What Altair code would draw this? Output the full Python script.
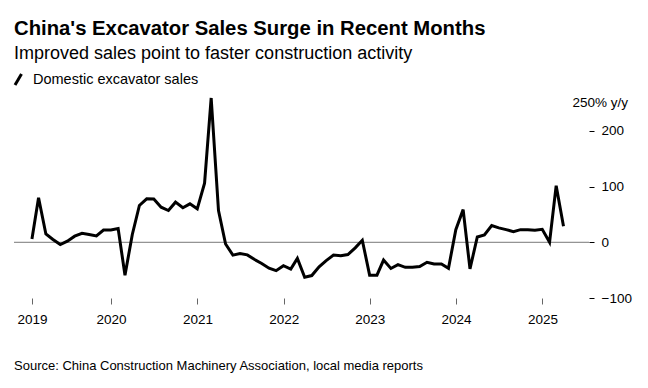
import altair as alt
import pandas as pd

# Monthly y/y change in domestic excavator sales, Jan 2019 .. Mar 2025 (month-end dated)
months = pd.date_range("2019-01-31", "2025-03-31", freq="ME")
values = [
    # 2019
    6, 80, 15, 5, -4, 2, 11, 16, 14, 11.5, 22, 22,
    # 2020
    24.5, -59, 14, 66, 78, 77.7, 63, 57, 72, 62, 69, 60,
    # 2021
    106, 259, 57, -3, -23, -20, -22.6, -31, -38, -46.5, -51, -42,
    # 2022
    -48, -29, -62.7, -59.7, -44, -33, -23, -24, -22, -10, 3.6, -59,
    # 2023
    -59, -32, -47, -40, -45, -44.7, -43.5, -35.8, -39, -38.8, -46.6, 22.7,
    # 2024
    58.6, -47.8, 9.6, 13.2, 30, 25.8, 22.7, 19.2, 22.7, 22.7, 21.5, 23.3,
    # 2025
    0, 101.6, 28.7,
]
y_ticks = [-100, -50, 0, 50, 100, 150, 200]
x_tick_years = [2020, 2021, 2022, 2023, 2024, 2025]

title = "China's Excavator Sales Surge in Recent Months"
subtitle = "Improved sales point to faster construction activity"
legend_label = "Domestic excavator sales"
unit_label = "250% y/y"
source = "Source: China Construction Machinery Association, local media reports"

FONT = "Liberation Sans"
W, H = 575, 195

df = pd.DataFrame({"date": [d.strftime("%Y-%m-%dT00:00:00") for d in months], "value": values})

x_values = [alt.DateTime(year=2019, month=1, date=31)] + [
    alt.DateTime(year=y, month=1, date=1) for y in x_tick_years
]

x_enc = alt.X(
    "date:T",
    scale=alt.Scale(domain=[alt.DateTime(year=2018, month=11, date=16),
                            alt.DateTime(year=2025, month=7, date=17)]),
    axis=alt.Axis(values=x_values, format="%Y", title=None, domain=False, grid=False,
                  tickSize=6, tickColor="#666", tickWidth=1, labelPadding=8,
                  labelFont=FONT, labelFontSize=13.5, labelColor="#000"),
)
y_enc = alt.Y(
    "value:Q",
    scale=alt.Scale(domain=[-100, 250], nice=False, clamp=False),
    axis=alt.Axis(orient="right", values=y_ticks, title=None, domain=False, grid=False,
                  tickSize=5, tickColor="#000", tickWidth=1, labelPadding=7,
                  labelFont=FONT, labelFontSize=13.5, labelColor="#000", labelAlign="left"),
)

line = alt.Chart(df).mark_line(color="#000", strokeWidth=3, strokeJoin="miter").encode(x=x_enc, y=y_enc)

zero = alt.Chart(pd.DataFrame({"v": [0]})).mark_rule(color="#777", strokeWidth=1).encode(
    y=alt.Y("v:Q"), x=alt.value(0), x2=alt.value(W)
)

unit = alt.Chart(pd.DataFrame({"v": [250], "t": [unit_label]})).mark_text(
    align="right", baseline="middle", font=FONT, fontSize=13.5, color="#000"
).encode(y=alt.Y("v:Q"), x=alt.value(W + 39), text="t:N")


def txt(s, x, y, size, weight="normal"):
    return alt.Chart(pd.DataFrame({"t": [s]})).mark_text(
        align="left", baseline="alphabetic", font=FONT, fontSize=size, fontWeight=weight, color="#000"
    ).encode(x=alt.value(x), y=alt.value(y), text="t:N")


icon = alt.Chart(pd.DataFrame({"a": [0]})).mark_rule(color="#000", strokeWidth=3).encode(
    x=alt.value(1), x2=alt.value(7.5), y=alt.value(-18), y2=alt.value(-29)
)

chart = alt.layer(
    zero, line, unit,
    txt(title, 0, -68, 20.3, "bold"),
    txt(subtitle, 0, -44, 18),
    txt(legend_label, 19, -19, 14.5),
    icon,
    txt(source, 0, 267, 13),
).resolve_scale(y="shared").properties(
    width=W, height=H,
    autosize=alt.AutoSizeParams(type="none"),
    padding={"left": 6, "top": 95, "right": 51, "bottom": 82},
).configure_view(stroke=None)

chart.save("out.html", embed_options={"renderer": "svg", "actions": False})
